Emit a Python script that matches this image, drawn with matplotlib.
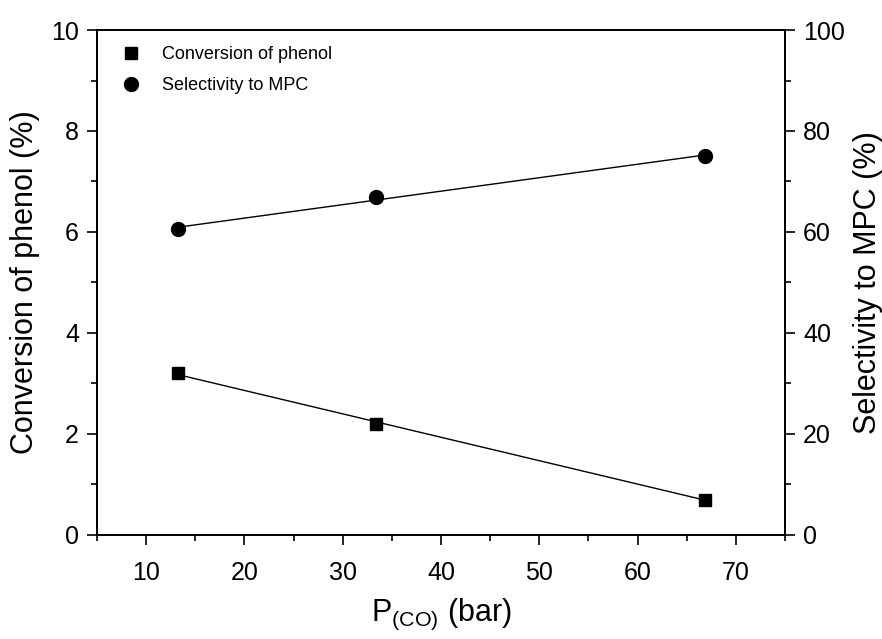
import numpy as np
import matplotlib
matplotlib.use('Agg')
import matplotlib.pyplot as plt
from matplotlib.ticker import MultipleLocator

plt.rcParams['font.family'] = ['Liberation Sans', 'DejaVu Sans']
plt.rcParams['mathtext.default'] = 'regular'

# data
pressure = [13.2, 33.4, 66.9]           # P(CO) in bar
conversion = [3.2, 2.2, 0.7]            # conversion of phenol (%)
selectivity = [60.5, 67.0, 75.0]        # selectivity to MPC (%)

fig = plt.figure(figsize=(8.82, 6.39), dpi=100)
ax = fig.add_axes([0.110, 0.163, 0.780, 0.790])
ax2 = ax.twinx()

#Linear fits drawn as straight lines through the points
xfit = np.array([min(pressure), max(pressure)])
p1 = np.polyfit(pressure, conversion, 1)
p2 = np.polyfit(pressure, selectivity, 1)
ax.plot(xfit, np.polyval(p1, xfit), color='black', lw=1.0)
ax2.plot(xfit, np.polyval(p2, xfit), color='black', lw=1.0)

h1, = ax.plot(pressure, conversion, 's', color='black', ms=8.5, label='Conversion of phenol')
h2, = ax2.plot(pressure, selectivity, 'o', color='black', ms=10, label='Selectivity to MPC')

ax.set_xlim(5, 75)
ax.set_ylim(0, 10)
ax2.set_ylim(0, 100)
ax.xaxis.set_major_locator(MultipleLocator(10))
ax.xaxis.set_minor_locator(MultipleLocator(5))
ax.yaxis.set_major_locator(MultipleLocator(2))
ax.yaxis.set_minor_locator(MultipleLocator(1))
ax2.yaxis.set_major_locator(MultipleLocator(20))
ax2.yaxis.set_minor_locator(MultipleLocator(10))
ax.set_xticks([10, 20, 30, 40, 50, 60, 70])

for a in (ax, ax2):
    a.tick_params(which='major', direction='out', length=7, width=1.2, labelsize=18, pad=6)
    a.tick_params(which='minor', direction='out', length=4, width=1.2)
    for s in a.spines.values():
        s.set_linewidth(1.3)
ax.tick_params(top=False, which='both')
ax.tick_params(axis='x', pad=12)

ax.set_xlabel('P$_{(CO)}$ (bar)', fontsize=22, labelpad=8)
ax.set_ylabel('Conversion of phenol (%)', fontsize=22, labelpad=8)
ax2.set_ylabel('Selectivity to MPC (%)', fontsize=22, labelpad=6)

ax.legend(handles=[h1, h2], loc='upper left', frameon=False, fontsize=13,
          handletextpad=0.7, borderaxespad=0.5, labelspacing=0.75,
          bbox_to_anchor=(0.0, 1.0))

fig.savefig('out.png', dpi=100)
